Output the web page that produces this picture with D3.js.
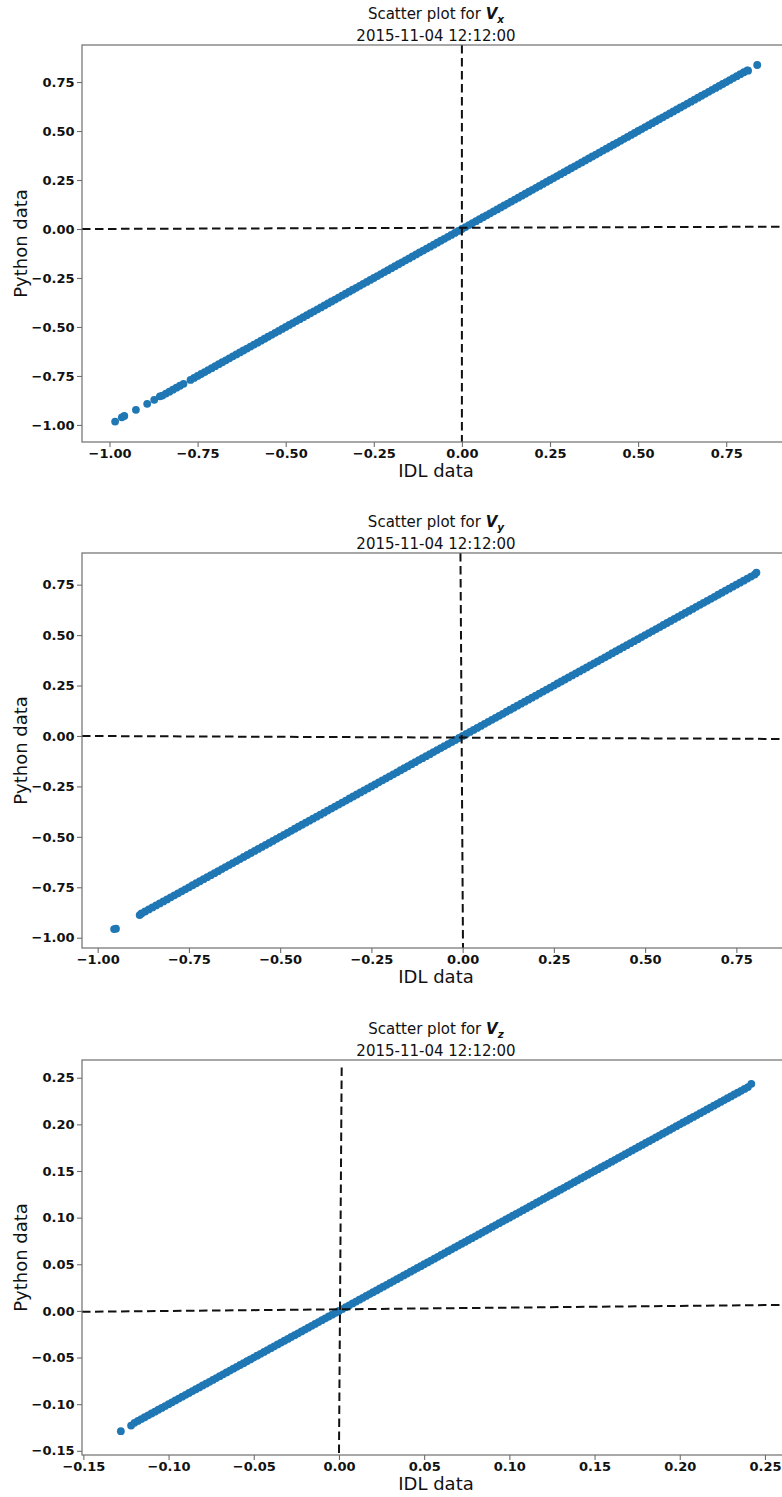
<!DOCTYPE html>
<html>
<head>
<meta charset="utf-8">
<script src="https://cdn.jsdelivr.net/npm/d3@7"></script>
<style>
  body { margin: 0; background: #fff; }
  svg { display: block; }
  text { font-family: "DejaVu Sans", sans-serif; }
</style>
</head>
<body>
<svg id="chart" width="782" height="1497"></svg>
<script>
// ---- Vx: IDL values vs Python values ----
const vxIdl = [
  -0.984,-0.965,-0.958,-0.925,-0.893,-0.873,-0.857,
  -0.85,-0.84,-0.83,-0.82,-0.81,-0.80,-0.79,-0.77,-0.76,-0.75,
  -0.74,-0.73,-0.72,-0.71,-0.70,-0.69,-0.68,-0.67,-0.66,-0.65,
  -0.64,-0.63,-0.62,-0.61,-0.60,-0.59,-0.58,-0.57,-0.56,-0.55,
  -0.54,-0.53,-0.52,-0.51,-0.50,-0.49,-0.48,-0.47,-0.46,-0.45,
  -0.44,-0.43,-0.42,-0.41,-0.40,-0.39,-0.38,-0.37,-0.36,-0.35,
  -0.34,-0.33,-0.32,-0.31,-0.30,-0.29,-0.28,-0.27,-0.26,-0.25,
  -0.24,-0.23,-0.22,-0.21,-0.20,-0.19,-0.18,-0.17,-0.16,-0.15,
  -0.14,-0.13,-0.12,-0.11,-0.10,-0.09,-0.08,-0.07,-0.06,-0.05,
  -0.04,-0.03,-0.02,-0.01,0.00,0.01,0.02,0.03,0.04,0.05,
  0.06,0.07,0.08,0.09,0.10,0.11,0.12,0.13,0.14,0.15,
  0.16,0.17,0.18,0.19,0.20,0.21,0.22,0.23,0.24,0.25,
  0.26,0.27,0.28,0.29,0.30,0.31,0.32,0.33,0.34,0.35,
  0.36,0.37,0.38,0.39,0.40,0.41,0.42,0.43,0.44,0.45,
  0.46,0.47,0.48,0.49,0.50,0.51,0.52,0.53,0.54,0.55,
  0.56,0.57,0.58,0.59,0.60,0.61,0.62,0.63,0.64,0.65,
  0.66,0.67,0.68,0.69,0.70,0.71,0.72,0.73,0.74,0.75,
  0.76,0.77,0.78,0.79,0.80,0.81,0.812,0.838
];
const vxPython = [
  -0.983,-0.961,-0.954,-0.923,-0.892,-0.872,-0.854,
  -0.85,-0.84,-0.83,-0.82,-0.81,-0.80,-0.79,-0.77,-0.76,-0.75,
  -0.74,-0.73,-0.72,-0.71,-0.70,-0.69,-0.68,-0.67,-0.66,-0.65,
  -0.64,-0.63,-0.62,-0.61,-0.60,-0.59,-0.58,-0.57,-0.56,-0.55,
  -0.54,-0.53,-0.52,-0.51,-0.50,-0.49,-0.48,-0.47,-0.46,-0.45,
  -0.44,-0.43,-0.42,-0.41,-0.40,-0.39,-0.38,-0.37,-0.36,-0.35,
  -0.34,-0.33,-0.32,-0.31,-0.30,-0.29,-0.28,-0.27,-0.26,-0.25,
  -0.24,-0.23,-0.22,-0.21,-0.20,-0.19,-0.18,-0.17,-0.16,-0.15,
  -0.14,-0.13,-0.12,-0.11,-0.10,-0.09,-0.08,-0.07,-0.06,-0.05,
  -0.04,-0.03,-0.02,-0.01,0.00,0.01,0.02,0.03,0.04,0.05,
  0.06,0.07,0.08,0.09,0.10,0.11,0.12,0.13,0.14,0.15,
  0.16,0.17,0.18,0.19,0.20,0.21,0.22,0.23,0.24,0.25,
  0.26,0.27,0.28,0.29,0.30,0.31,0.32,0.33,0.34,0.35,
  0.36,0.37,0.38,0.39,0.40,0.41,0.42,0.43,0.44,0.45,
  0.46,0.47,0.48,0.49,0.50,0.51,0.52,0.53,0.54,0.55,
  0.56,0.57,0.58,0.59,0.60,0.61,0.62,0.63,0.64,0.65,
  0.66,0.67,0.68,0.69,0.70,0.71,0.72,0.73,0.74,0.75,
  0.76,0.77,0.78,0.79,0.80,0.81,0.808,0.837
];

// ---- Vy ----
const vyIdl = [
  -0.955,-0.950,-0.885,
  -0.88,-0.87,-0.86,-0.85,-0.84,-0.83,-0.82,-0.81,-0.80,-0.79,
  -0.78,-0.77,-0.76,-0.75,-0.74,-0.73,-0.72,-0.71,-0.70,-0.69,
  -0.68,-0.67,-0.66,-0.65,-0.64,-0.63,-0.62,-0.61,-0.60,-0.59,
  -0.58,-0.57,-0.56,-0.55,-0.54,-0.53,-0.52,-0.51,-0.50,-0.49,
  -0.48,-0.47,-0.46,-0.45,-0.44,-0.43,-0.42,-0.41,-0.40,-0.39,
  -0.38,-0.37,-0.36,-0.35,-0.34,-0.33,-0.32,-0.31,-0.30,-0.29,
  -0.28,-0.27,-0.26,-0.25,-0.24,-0.23,-0.22,-0.21,-0.20,-0.19,
  -0.18,-0.17,-0.16,-0.15,-0.14,-0.13,-0.12,-0.11,-0.10,-0.09,
  -0.08,-0.07,-0.06,-0.05,-0.04,-0.03,-0.02,-0.01,0.00,0.01,
  0.02,0.03,0.04,0.05,0.06,0.07,0.08,0.09,0.10,0.11,
  0.12,0.13,0.14,0.15,0.16,0.17,0.18,0.19,0.20,0.21,
  0.22,0.23,0.24,0.25,0.26,0.27,0.28,0.29,0.30,0.31,
  0.32,0.33,0.34,0.35,0.36,0.37,0.38,0.39,0.40,0.41,
  0.42,0.43,0.44,0.45,0.46,0.47,0.48,0.49,0.50,0.51,
  0.52,0.53,0.54,0.55,0.56,0.57,0.58,0.59,0.60,0.61,
  0.62,0.63,0.64,0.65,0.66,0.67,0.68,0.69,0.70,0.71,
  0.72,0.73,0.74,0.75,0.76,0.77,0.78,0.79,0.80,0.805
];
const vyPython = [
  -0.957,-0.955,-0.888,
  -0.88,-0.87,-0.86,-0.85,-0.84,-0.83,-0.82,-0.81,-0.80,-0.79,
  -0.78,-0.77,-0.76,-0.75,-0.74,-0.73,-0.72,-0.71,-0.70,-0.69,
  -0.68,-0.67,-0.66,-0.65,-0.64,-0.63,-0.62,-0.61,-0.60,-0.59,
  -0.58,-0.57,-0.56,-0.55,-0.54,-0.53,-0.52,-0.51,-0.50,-0.49,
  -0.48,-0.47,-0.46,-0.45,-0.44,-0.43,-0.42,-0.41,-0.40,-0.39,
  -0.38,-0.37,-0.36,-0.35,-0.34,-0.33,-0.32,-0.31,-0.30,-0.29,
  -0.28,-0.27,-0.26,-0.25,-0.24,-0.23,-0.22,-0.21,-0.20,-0.19,
  -0.18,-0.17,-0.16,-0.15,-0.14,-0.13,-0.12,-0.11,-0.10,-0.09,
  -0.08,-0.07,-0.06,-0.05,-0.04,-0.03,-0.02,-0.01,0.00,0.01,
  0.02,0.03,0.04,0.05,0.06,0.07,0.08,0.09,0.10,0.11,
  0.12,0.13,0.14,0.15,0.16,0.17,0.18,0.19,0.20,0.21,
  0.22,0.23,0.24,0.25,0.26,0.27,0.28,0.29,0.30,0.31,
  0.32,0.33,0.34,0.35,0.36,0.37,0.38,0.39,0.40,0.41,
  0.42,0.43,0.44,0.45,0.46,0.47,0.48,0.49,0.50,0.51,
  0.52,0.53,0.54,0.55,0.56,0.57,0.58,0.59,0.60,0.61,
  0.62,0.63,0.64,0.65,0.66,0.67,0.68,0.69,0.70,0.71,
  0.72,0.73,0.74,0.75,0.76,0.77,0.78,0.79,0.80,0.81
];

// ---- Vz ----
const vzIdl = [
  -0.128,
  -0.122,-0.120,-0.118,-0.116,-0.114,-0.112,-0.110,-0.108,-0.106,-0.104,
  -0.102,-0.100,-0.098,-0.096,-0.094,-0.092,-0.090,-0.088,-0.086,-0.084,
  -0.082,-0.080,-0.078,-0.076,-0.074,-0.072,-0.070,-0.068,-0.066,-0.064,
  -0.062,-0.060,-0.058,-0.056,-0.054,-0.052,-0.050,-0.048,-0.046,-0.044,
  -0.042,-0.040,-0.038,-0.036,-0.034,-0.032,-0.030,-0.028,-0.026,-0.024,
  -0.022,-0.020,-0.018,-0.016,-0.014,-0.012,-0.010,-0.008,-0.006,-0.004,
  -0.002,0.000,0.002,0.004,0.006,0.008,0.010,0.012,0.014,0.016,
  0.018,0.020,0.022,0.024,0.026,0.028,0.030,0.032,0.034,0.036,
  0.038,0.040,0.042,0.044,0.046,0.048,0.050,0.052,0.054,0.056,
  0.058,0.060,0.062,0.064,0.066,0.068,0.070,0.072,0.074,0.076,
  0.078,0.080,0.082,0.084,0.086,0.088,0.090,0.092,0.094,0.096,
  0.098,0.100,0.102,0.104,0.106,0.108,0.110,0.112,0.114,0.116,
  0.118,0.120,0.122,0.124,0.126,0.128,0.130,0.132,0.134,0.136,
  0.138,0.140,0.142,0.144,0.146,0.148,0.150,0.152,0.154,0.156,
  0.158,0.160,0.162,0.164,0.166,0.168,0.170,0.172,0.174,0.176,
  0.178,0.180,0.182,0.184,0.186,0.188,0.190,0.192,0.194,0.196,
  0.198,0.200,0.202,0.204,0.206,0.208,0.210,0.212,0.214,0.216,
  0.218,0.220,0.222,0.224,0.226,0.228,0.230,0.232,0.234,0.236,
  0.238,0.240,0.242
];
const vzPython = [
  -0.129,
  -0.123,-0.120,-0.118,-0.116,-0.114,-0.112,-0.110,-0.108,-0.106,-0.104,
  -0.102,-0.100,-0.098,-0.096,-0.094,-0.092,-0.090,-0.088,-0.086,-0.084,
  -0.082,-0.080,-0.078,-0.076,-0.074,-0.072,-0.070,-0.068,-0.066,-0.064,
  -0.062,-0.060,-0.058,-0.056,-0.054,-0.052,-0.050,-0.048,-0.046,-0.044,
  -0.042,-0.040,-0.038,-0.036,-0.034,-0.032,-0.030,-0.028,-0.026,-0.024,
  -0.022,-0.020,-0.018,-0.016,-0.014,-0.012,-0.010,-0.008,-0.006,-0.004,
  -0.002,0.000,0.002,0.004,0.006,0.008,0.010,0.012,0.014,0.016,
  0.018,0.020,0.022,0.024,0.026,0.028,0.030,0.032,0.034,0.036,
  0.038,0.040,0.042,0.044,0.046,0.048,0.050,0.052,0.054,0.056,
  0.058,0.060,0.062,0.064,0.066,0.068,0.070,0.072,0.074,0.076,
  0.078,0.080,0.082,0.084,0.086,0.088,0.090,0.092,0.094,0.096,
  0.098,0.100,0.102,0.104,0.106,0.108,0.110,0.112,0.114,0.116,
  0.118,0.120,0.122,0.124,0.126,0.128,0.130,0.132,0.134,0.136,
  0.138,0.140,0.142,0.144,0.146,0.148,0.150,0.152,0.154,0.156,
  0.158,0.160,0.162,0.164,0.166,0.168,0.170,0.172,0.174,0.176,
  0.178,0.180,0.182,0.184,0.186,0.188,0.190,0.192,0.194,0.196,
  0.198,0.200,0.202,0.204,0.206,0.208,0.210,0.212,0.214,0.216,
  0.218,0.220,0.222,0.224,0.226,0.228,0.230,0.232,0.234,0.236,
  0.238,0.240,0.2435
];

// Axis limits and tick values
const vxXDomain = [-1.078, 0.931], vxYDomain = [-1.087, 0.939];
const vyXDomain = [-1.043, 0.897], vyYDomain = [-1.051, 0.907];
const vzXDomain = [-0.1508, 0.2647], vzYDomain = [-0.1545, 0.269];
const wideTicks = [-1.00, -0.75, -0.50, -0.25, 0.00, 0.25, 0.50, 0.75];
const vzTicks = [-0.15, -0.10, -0.05, 0.00, 0.05, 0.10, 0.15, 0.20, 0.25];

// Dashed zero reference lines: [[x0, y0], [x1, y1]] in data units
const vxHorizontalRef = [[-1.078, 0.0], [0.931, 0.012]];
const vxVerticalRef   = [[0.0, 0.939], [0.0, -1.087]];
const vyHorizontalRef = [[-1.043, 0.0], [0.897, -0.015]];
const vyVerticalRef   = [[-0.006, 0.907], [0.001, -1.051]];
const vzHorizontalRef = [[-0.1508, -0.001], [0.2647, 0.0065]];
const vzVerticalRef   = [[0.0016, 0.261], [0.0, -0.1555]];

const subtitle = "2015-11-04 12:12:00";

const panels = [
  { comp: "x", idl: vxIdl, py: vxPython, xDomain: vxXDomain, yDomain: vxYDomain,
    xTicks: wideTicks, yTicks: wideTicks, hRef: vxHorizontalRef, vRef: vxVerticalRef },
  { comp: "y", idl: vyIdl, py: vyPython, xDomain: vyXDomain, yDomain: vyYDomain,
    xTicks: wideTicks, yTicks: wideTicks, hRef: vyHorizontalRef, vRef: vyVerticalRef },
  { comp: "z", idl: vzIdl, py: vzPython, xDomain: vzXDomain, yDomain: vzYDomain,
    xTicks: vzTicks, yTicks: vzTicks, hRef: vzHorizontalRef, vRef: vzVerticalRef }
];

// Page layout (pixels)
const plotLeft = 82, plotRight = 790;
const frames = [ { top: 45, bottom: 442 }, { top: 553, bottom: 948 }, { top: 1060, bottom: 1455 } ];

const svg = d3.select("#chart");
svg.append("rect").attr("width", 782).attr("height", 1497).attr("fill", "#fff");

const fmt = d3.format(".2f");
const spineColor = "#6e6e6e";

panels.forEach((p, i) => {
  const f = frames[i];
  const x = d3.scaleLinear().domain(p.xDomain).range([plotLeft, plotRight]);
  const y = d3.scaleLinear().domain(p.yDomain).range([f.bottom, f.top]);
  const g = svg.append("g");

  const clipId = "clip" + i;
  g.append("clipPath").attr("id", clipId)
    .append("rect")
    .attr("x", plotLeft).attr("y", f.top)
    .attr("width", plotRight - plotLeft).attr("height", f.bottom - f.top);

  // scatter points
  const pts = d3.zip(p.idl, p.py);
  g.append("g").attr("clip-path", `url(#${clipId})`)
    .selectAll("circle").data(pts).join("circle")
    .attr("cx", d => x(d[0]))
    .attr("cy", d => y(d[1]))
    .attr("r", 3.9)
    .attr("fill", "#1f77b4");

  // dashed zero lines
  const line = d3.line().x(d => x(d[0])).y(d => y(d[1]));
  const refs = g.append("g").attr("clip-path", `url(#${clipId})`);
  [p.hRef, p.vRef].forEach(r => {
    refs.append("path").attr("d", line(r))
      .attr("fill", "none").attr("stroke", "#111")
      .attr("stroke-width", 2).attr("stroke-dasharray", "8.5,4.5");
  });

  // frame
  g.append("rect")
    .attr("x", plotLeft).attr("y", f.top)
    .attr("width", plotRight - plotLeft).attr("height", f.bottom - f.top)
    .attr("fill", "none").attr("stroke", spineColor).attr("stroke-width", 1.2);

  // axes
  const xAxis = g.append("g").attr("transform", `translate(0,${f.bottom})`)
    .call(d3.axisBottom(x).tickValues(p.xTicks).tickFormat(fmt).tickSize(5).tickPadding(2));
  const yAxis = g.append("g").attr("transform", `translate(${plotLeft},0)`)
    .call(d3.axisLeft(y).tickValues(p.yTicks).tickFormat(fmt).tickSize(5).tickPadding(2.5));
  [xAxis, yAxis].forEach(a => {
    a.select(".domain").remove();
    a.selectAll(".tick line").attr("stroke", spineColor).attr("stroke-width", 1.1);
    a.selectAll(".tick text")
      .attr("fill", "#111")
      .style("font-family", '"DejaVu Sans", sans-serif')
      .style("font-weight", "bold")
      .style("font-size", "13px");
  });

  // axis labels
  g.append("text")
    .attr("x", (plotLeft + 790) / 2).attr("y", f.bottom + 35)
    .attr("text-anchor", "middle")
    .style("font-size", "18px").attr("fill", "#111")
    .text("IDL data");
  g.append("text")
    .attr("transform", `translate(27,${(f.top + f.bottom) / 2}) rotate(-90)`)
    .attr("text-anchor", "middle")
    .style("font-size", "18px").attr("fill", "#111")
    .text("Python data");

  // title
  const cx = (plotLeft + plotRight) / 2;
  const t1 = g.append("text")
    .attr("x", cx).attr("y", f.top - 26)
    .attr("text-anchor", "middle")
    .style("font-size", "15px").attr("fill", "#111");
  t1.append("tspan").text("Scatter plot for ");
  t1.append("tspan").style("font-weight", "bold").style("font-style", "italic").text("V");
  t1.append("tspan").attr("dy", 3.5)
    .style("font-weight", "bold").style("font-style", "italic").style("font-size", "10.5px")
    .text(p.comp);
  g.append("text")
    .attr("x", cx).attr("y", f.top - 4)
    .attr("text-anchor", "middle")
    .style("font-size", "15px").attr("fill", "#111")
    .text(subtitle);
});
</script>
</body>
</html>
